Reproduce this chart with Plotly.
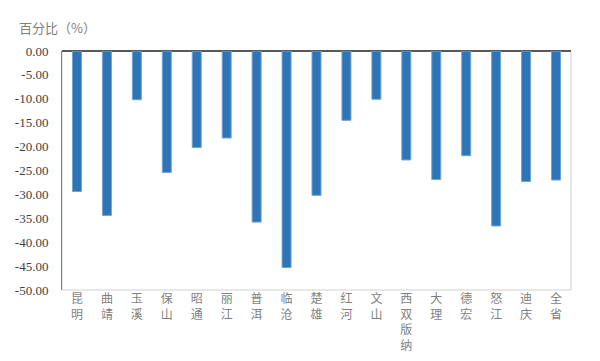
import plotly.graph_objects as go

categories = ["昆明", "曲靖", "玉溪", "保山", "昭通", "丽江", "普洱", "临沧", "楚雄",
              "红河", "文山", "西双版纳", "大理", "德宏", "怒江", "迪庆", "全省"]
values = [-29.4, -34.4, -10.2, -25.4, -20.2, -18.2, -35.8, -45.3, -30.2,
          -14.5, -10.1, -22.8, -26.9, -21.9, -36.6, -27.3, -27.0]
ytick_vals = [0, -5, -10, -15, -20, -25, -30, -35, -40, -45, -50]
ytick_text = ["0.00", "-5.00", "-10.00", "-15.00", "-20.00", "-25.00", "-30.00",
              "-35.00", "-40.00", "-45.00", "-50.00"]

xtick_text = ["<br>".join(list(c)) for c in categories]

SERIF = "Liberation Serif"

fig = go.Figure(go.Bar(
    x=categories, y=values,
    marker=dict(color="#2E75B6", line=dict(color="#6FA3D8", width=1)),
    width=0.3,
))

fig.update_layout(
    width=592, height=353,
    margin=dict(l=54, r=29, t=43, b=71),
    plot_bgcolor="white", paper_bgcolor="white",
    showlegend=False,
    font=dict(family=SERIF, color="#595959"),
    xaxis=dict(
        tickmode="array", tickvals=categories, ticktext=xtick_text,
        tickfont=dict(family="Noto Sans CJK SC", size=12, color="#7F7F7F"),
        showline=False, showgrid=False, ticks="", automargin=False,
        side="bottom",
    ),
    yaxis=dict(
        range=[-50, 0], tickmode="array", tickvals=ytick_vals, ticktext=ytick_text,
        tickfont=dict(family=SERIF, size=13, color="#404040"),
        showgrid=False, showline=True, linecolor="#808080", linewidth=1,
        zeroline=True, zerolinecolor="#595959", zerolinewidth=1.5,
        ticks="outside", ticklen=10, tickcolor="rgba(0,0,0,0)", automargin=False,
    ),
    shapes=[dict(type="rect", xref="paper", yref="paper", x0=0, x1=1, y0=0, y1=1,
                 line=dict(color="#D0D0D0", width=1), layer="below")],
    annotations=[dict(text="百分比（%）", xref="paper", yref="paper", x=-0.088, y=1.1,
                      xanchor="left", yanchor="middle", showarrow=False,
                      font=dict(family="Noto Sans CJK SC", size=13, color="#7F7F7F"))],
)

fig.write_html("out.html")
